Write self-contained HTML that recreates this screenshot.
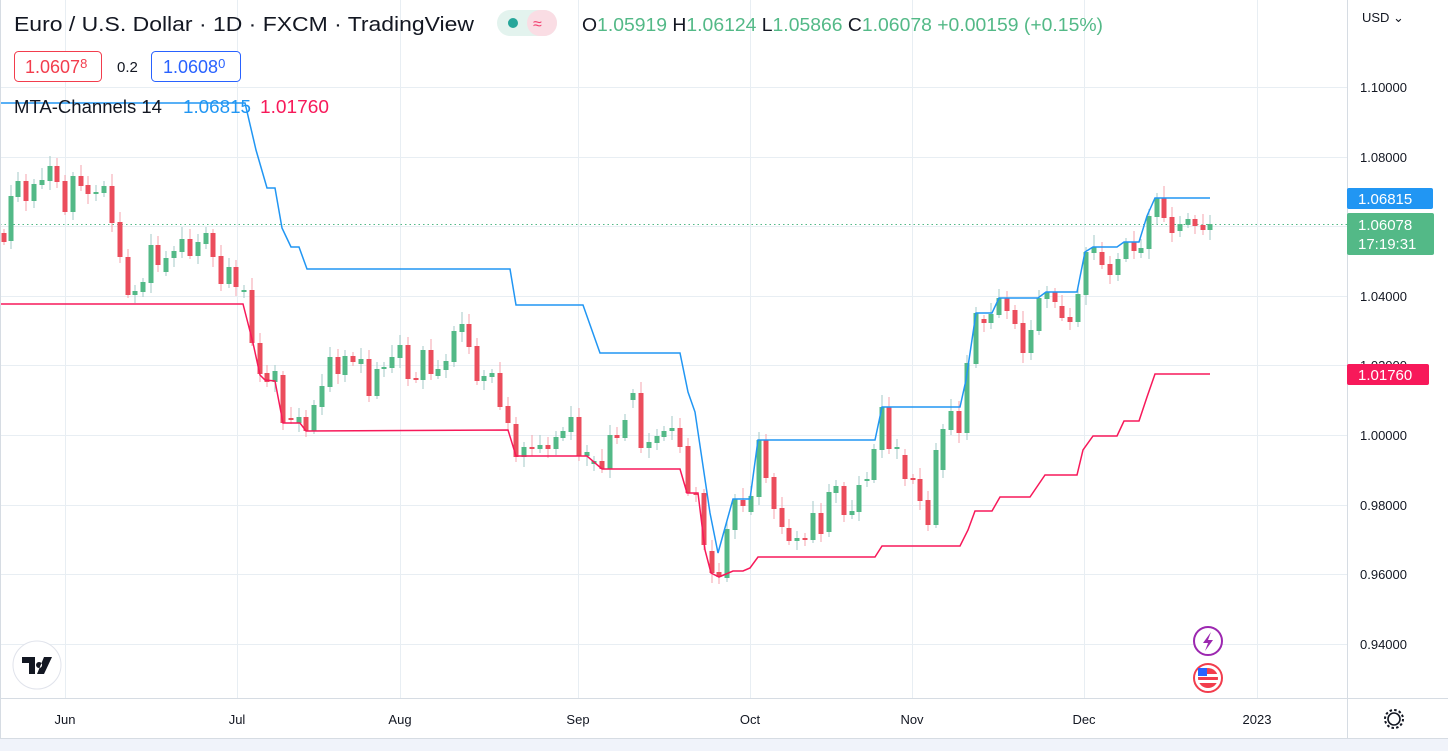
<!DOCTYPE html>
<html><head><meta charset="utf-8"><style>
body{margin:0;background:#fff;width:1448px;height:751px;overflow:hidden;font-family:"Liberation Sans",sans-serif}
svg{position:absolute;left:0;top:0}
</style></head><body>
<svg id="s" width="1448" height="751" xmlns="http://www.w3.org/2000/svg">
<rect width="1448" height="751" fill="#fff"/>
<g id="grid" stroke="#e8eef3" stroke-width="1"></g>
<line x1="0" y1="224.5" x2="1347" y2="224.5" stroke="#53b987" stroke-dasharray="1.5,3" stroke-width="1"/>
<g id="wicks"></g><g id="bodies"></g>
<polyline id="up" fill="none" stroke="#2196f3" stroke-width="1.5"/>
<polyline id="lo" fill="none" stroke="#f7195a" stroke-width="1.5"/>
<line x1="1347.5" y1="0" x2="1347.5" y2="738" stroke="#d6dce3"/>
<line x1="0" y1="698.5" x2="1448" y2="698.5" stroke="#d6dce3"/>
<line x1="0" y1="738.5" x2="1448" y2="738.5" stroke="#d6dce3"/>
<rect x="0" y="739" width="1448" height="12" fill="#f0f3fa"/>
<line x1="0.5" y1="0" x2="0.5" y2="738" stroke="#d6dce3"/>
<g font-size="13" fill="#131722" id="ylab"></g>
<g font-size="13" fill="#131722" text-anchor="middle">
<text x="65" y="724">Jun</text><text x="237" y="724">Jul</text><text x="400" y="724">Aug</text><text x="578" y="724">Sep</text><text x="750" y="724">Oct</text><text x="912" y="724">Nov</text><text x="1084" y="724">Dec</text><text x="1257" y="724">2023</text>
</g>
<text x="1362" y="22" font-size="13" fill="#131722">USD ⌄</text>
<rect x="1347" y="188" width="86" height="21" rx="2" fill="#2196f3"/>
<text x="1358" y="204" font-size="15" fill="#fff">1.06815</text>
<rect x="1347" y="213" width="87" height="42" rx="2" fill="#53b987"/>
<text x="1358" y="230" font-size="15" fill="#fff">1.06078</text>
<text x="1358" y="249" font-size="15" fill="#fff">17:19:31</text>
<rect x="1347" y="364" width="82" height="21" rx="2" fill="#f7195a"/>
<text x="1358" y="380" font-size="15" fill="#fff">1.01760</text>
<!-- legend -->
<text x="14" y="31" font-size="20" fill="#131722" textLength="460" lengthAdjust="spacingAndGlyphs">Euro / U.S. Dollar · 1D · FXCM · TradingView</text>
<rect x="497" y="10" width="60" height="26" rx="13" fill="#e3f3ee"/>
<rect x="527" y="10" width="30" height="26" rx="13" fill="#fadde4"/>
<circle cx="513" cy="23" r="5" fill="#26a69a"/>
<text x="533" y="29" font-size="16" fill="#f23d6d">≈</text>
<text x="582" y="31" font-size="18" fill="#131722" textLength="521" lengthAdjust="spacingAndGlyphs">O<tspan fill="#53b987">1.05919</tspan> H<tspan fill="#53b987">1.06124</tspan> L<tspan fill="#53b987">1.05866</tspan> C<tspan fill="#53b987">1.06078</tspan><tspan fill="#53b987"> +0.00159 (+0.15%)</tspan></text>
<rect x="14.5" y="51.5" width="87" height="30" rx="4" fill="#fff" stroke="#f23d4d"/>
<text x="25" y="73" font-size="18" fill="#f23d4d">1.0607<tspan font-size="13" dy="-5">8</tspan></text>
<text x="117" y="72" font-size="15" fill="#131722">0.2</text>
<rect x="151.5" y="51.5" width="89" height="30" rx="4" fill="#fff" stroke="#2962ff"/>
<text x="163" y="73" font-size="18" fill="#2962ff">1.0608<tspan font-size="13" dy="-5">0</tspan></text>
<text x="14" y="113" font-size="18" fill="#131722" textLength="148" lengthAdjust="spacingAndGlyphs">MTA-Channels 14</text>
<text x="183" y="113" font-size="18" fill="#2196f3" textLength="68" lengthAdjust="spacingAndGlyphs">1.06815</text>
<text x="260" y="113" font-size="18" fill="#f7195a" textLength="69" lengthAdjust="spacingAndGlyphs">1.01760</text>
<!-- logo & icons -->
<circle cx="37" cy="665" r="24" fill="#fff" stroke="#e0e3eb"/>
<path d="M22 657h13v17h-6v-11h-7z M39 662a3 3 0 1 0 0.1 0z M44 657h8l-8 17h-7z" fill="#131722"/>
<circle cx="1208" cy="641" r="14" fill="#fff" stroke="#9c27b0" stroke-width="2"/>
<path d="M1211 632l-8 11h5l-3 8 8-11h-5z" fill="#9c27b0"/>
<circle cx="1208" cy="678" r="14" fill="#fff" stroke="#f23d4d" stroke-width="2"/>
<circle cx="1208" cy="678" r="10" fill="#f23d4d"/>
<rect x="1198" y="674" width="20" height="3" fill="#fff"/><rect x="1198" y="680" width="20" height="3" fill="#fff"/>
<rect x="1198" y="668" width="9" height="8" fill="#2962ff"/>
<circle cx="1394" cy="719" r="6" fill="none" stroke="#131722" stroke-width="1.6"/>
<circle cx="1394" cy="719" r="9" fill="none" stroke="#131722" stroke-width="2" stroke-dasharray="2.5,2.2"/>
</svg>
<script>
var NS="http://www.w3.org/2000/svg";
function el(p,t,a){var e=document.createElementNS(NS,t);for(var k in a)e.setAttribute(k,a[k]);document.getElementById(p).appendChild(e);return e;}
[87,157,226,296,365,435,505,574,644].forEach(function(y){el("grid","line",{x1:0,x2:1347,y1:y+.5,y2:y+.5});});
[65,237,400,578,750,912,1084,1257].forEach(function(x){el("grid","line",{x1:x+.5,x2:x+.5,y1:0,y2:698});});
[[87,"1.10000"],[157,"1.08000"],[296,"1.04000"],[365,"1.02000"],[435,"1.00000"],[505,"0.98000"],[574,"0.96000"],[644,"0.94000"]].forEach(function(l){var t=el("ylab","text",{x:1360,y:l[0]+5});t.textContent=l[1];});
var C=[[4,233,242,0],[11,196,241,1],[18,181,197,1],[26,181,201,0],[34,184,201,1],[42,180,185,1],[50,166,181,1],[57,166,182,0],[65,181,212,0],[73,176,212,1],[81,176,186,0],[88,185,194,0],[96,192,194,1],[104,186,193,1],[112,186,223,0],[120,222,257,0],[128,257,295,0],[135,291,295,1],[143,282,292,1],[151,245,283,1],[158,245,265,0],[166,258,272,1],[174,251,258,1],[182,239,252,1],[190,239,256,0],[198,242,256,1],[206,233,244,1],[213,233,257,0],[221,256,284,0],[229,267,284,1],[236,267,287,0],[244,290,292,1],[252,290,343,0],[260,343,374,0],[267,373,382,0],[275,371,382,1],[283,375,423,0],[291,418,420,0],[299,417,423,1],[306,417,431,0],[314,405,431,1],[322,386,407,1],[330,357,387,1],[338,357,374,0],[345,356,375,1],[353,356,362,0],[361,359,364,1],[369,359,396,0],[377,369,396,1],[384,367,369,1],[392,357,368,1],[400,345,358,1],[408,345,379,0],[416,378,379,0],[423,350,380,1],[431,350,374,0],[438,369,376,1],[446,361,370,1],[454,331,362,1],[462,324,332,1],[469,324,347,0],[477,346,381,0],[484,376,381,1],[492,373,377,1],[500,373,407,0],[508,406,423,0],[516,424,457,0],[524,447,457,1],[532,447,449,0],[540,445,449,1],[548,445,449,0],[556,437,449,1],[563,431,438,1],[571,417,432,1],[579,417,456,0],[587,452,456,1],[594,461,464,1],[602,461,469,0],[610,435,469,1],[617,435,438,0],[625,420,438,1],[633,393,400,1],[641,393,448,0],[649,442,448,1],[657,436,443,1],[664,431,437,1],[672,428,431,1],[680,428,447,0],[688,446,493,0],[696,493,494,0],[704,493,545,0],[712,551,573,0],[719,572,577,0],[727,529,578,1],[735,499,530,1],[743,500,506,0],[751,496,512,1],[759,440,497,1],[766,440,478,0],[774,477,509,0],[782,508,527,0],[789,528,541,0],[797,538,541,1],[805,538,540,0],[813,513,540,1],[821,513,534,0],[829,492,532,1],[836,486,493,1],[844,486,515,0],[852,511,515,1],[859,485,512,1],[867,479,481,1],[874,449,480,1],[882,407,450,1],[889,407,449,0],[897,447,449,1],[905,455,479,0],[913,478,480,0],[920,479,501,0],[928,500,525,0],[936,450,525,1],[943,429,470,1],[951,411,430,1],[959,411,433,0],[967,363,433,1],[976,313,364,1],[984,319,323,0],[991,314,323,1],[999,298,315,1],[1007,298,311,0],[1015,310,324,0],[1023,323,353,0],[1031,330,353,1],[1039,298,331,1],[1047,292,299,1],[1055,292,302,0],[1062,306,318,0],[1070,317,322,0],[1078,294,322,1],[1086,252,295,1],[1094,247,253,1],[1102,252,265,0],[1110,264,275,0],[1118,259,275,1],[1126,242,259,1],[1134,242,251,0],[1141,248,253,1],[1149,216,249,1],[1157,198,217,1],[1164,198,218,0],[1172,217,233,0],[1180,224,231,1],[1188,219,225,1],[1195,219,226,0],[1203,225,230,0],[1210,224,230,1]];
C.forEach(function(c,i){var h=(c[2]-c[1]);var w=4+((i*7)%9);var wt=c[1]-w,wb=c[2]+3+((i*5)%8);
el("wicks","line",{x1:c[0],x2:c[0],y1:wt,y2:wb,stroke:c[3]?"#a3c9c7":"#f5a3ad","stroke-width":1});
el("bodies","rect",{x:c[0]-2.5,y:c[1],width:5,height:Math.max(h,2),fill:c[3]?"#53b987":"#eb4d5c"});});
document.getElementById("up").setAttribute("points","0,103 245,103 256,150 267,188 275,188 282,228 291,247 299,247 307,269 510,269 516,305 583,305 600,353 680,353 688,392 695,412 710,513 718,553 733,499 750,499 758,440 875,440 882,407 960,407 966,380 976,313 992,313 999,298 1038,298 1046,292 1077,292 1085,252 1093,247 1117,247 1124,242 1139,242 1147,216 1155,198 1210,198");
document.getElementById("lo").setAttribute("points","0,304 243,304 253,343 260,375 265,380 275,381 283,423 300,423 306,431 508,430 516,456 587,456 602,469 680,469 687,493 698,493 705,550 711,573 719,577 733,571 743,571 750,568 758,557 875,557 882,546 960,546 968,530 975,511 992,511 1000,497 1030,497 1045,475 1077,475 1083,450 1093,436 1117,436 1124,421 1139,421 1147,397 1155,374 1210,374");
</script>
</body></html>
